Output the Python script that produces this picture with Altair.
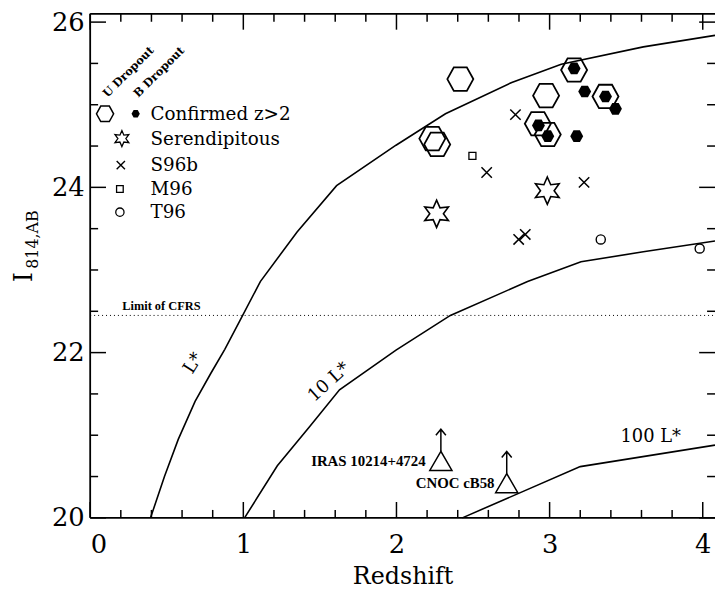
import altair as alt
import pandas as pd

W, H = 631, 509
XMAX, YMIN, YMAX = 4.08, 20.0, 26.1
SERIF = "DejaVu Serif"
TSERIF = "Liberation Serif"

# ---------------- data ----------------
lstar_z = [0.394, 0.485, 0.575, 0.685, 0.788, 0.879, 0.976, 1.111, 1.351, 1.609, 1.997, 2.32, 2.753, 3.076, 3.612, 4.08]
lstar_I = [20.0, 20.5, 20.95, 21.41, 21.75, 22.04, 22.38, 22.86, 23.46, 24.02, 24.51, 24.89, 25.27, 25.49, 25.70, 25.84]

l10_z = [1.008, 1.222, 1.435, 1.628, 1.997, 2.352, 2.856, 3.205, 3.612, 4.08]
l10_I = [20.0, 20.63, 21.11, 21.55, 22.03, 22.45, 22.86, 23.1, 23.22, 23.35]

l100_z = [2.43, 3.2, 4.08]
l100_I = [20.0, 20.62, 20.88]

cfrs_limit = 22.45

uhex_z = [2.417, 2.234, 2.266, 2.977, 3.16, 3.365, 2.923, 2.988]
uhex_I = [25.31, 24.59, 24.52, 25.11, 25.42, 25.10, 24.77, 24.64]

bhex_z = [3.16, 3.365, 3.229, 3.43, 2.927, 2.988, 3.177]
bhex_I = [25.44, 25.10, 25.16, 24.95, 24.75, 24.62, 24.62]

s96b_z = [2.777, 2.589, 3.225, 2.798, 2.841]
s96b_I = [24.88, 24.18, 24.06, 23.37, 23.43]

m96_z = [2.496]
m96_I = [24.38]

star_z = [2.985, 2.262]
star_I = [23.96, 23.68]

t96_z = [3.334, 3.98]
t96_I = [23.37, 23.26]

tri_names = ["IRAS 10214+4724", "CNOC cB58"]
tri_z = [2.29, 2.72]
tri_I = [20.69, 20.42]

curve_labels = ["L*", "10 L*", "100 L*"]
curve_label_z = [0.675, 1.56, 3.66]
curve_label_I = [21.87, 21.64, 20.98]
curve_label_angle = [302, 318, 0]

legend_labels = ["Confirmed  z>2", "Serendipitous", "S96b", "M96", "T96"]
legend_I = [24.89, 24.59, 24.27, 23.98, 23.70]
legend_text_z = 0.394

x_major = [0, 1, 2, 3, 4]
x_minor = [0.2, 0.4, 0.6, 0.8, 1.2, 1.4, 1.6, 1.8, 2.2, 2.4, 2.6, 2.8, 3.2, 3.4, 3.6, 3.8]
y_major = [20, 22, 24, 26]
y_minor = [20.5, 21, 21.5, 22.5, 23, 23.5, 24.5, 25, 25.5]

# ---------------- shapes ----------------
HEX = "M-1,0L-0.5,-0.9L0.5,-0.9L1,0L0.5,0.9L-0.5,0.9Z"
STAR = ("M0,-1L0.25,-0.433L0.866,-0.5L0.5,0L0.866,0.5L0.25,0.433L0,1"
        "L-0.25,0.433L-0.866,0.5L-0.5,0L-0.866,-0.5L-0.25,-0.433Z")
XMARK = "M-1,-1L1,1M1,-1L-1,1"
ARROW = "M0,-0.87L0,-2.86M-0.45,-2.32L0,-2.86L0.45,-2.32"

xs = alt.Scale(domain=[0, XMAX], nice=False, zero=False)
ys = alt.Scale(domain=[YMIN, YMAX], nice=False, zero=False)

X_AXIS = alt.Axis(
    values=x_major, format="d", ticks=False, domain=False, grid=False,
    labelFont=SERIF, labelFontSize=26, labelColor="black", labelPadding=14,
    title="Redshift", titleFont=SERIF, titleFontSize=24, titleFontWeight="normal",
    titleColor="black", titlePadding=7)
Y_AXIS = alt.Axis(
    values=y_major, format="d", ticks=False, domain=False, grid=False,
    labelFont=SERIF, labelFontSize=26, labelColor="black", labelPadding=6,
    title="")


def enc_x():
    return alt.X("z:Q", scale=xs, axis=X_AXIS)


def enc_y():
    return alt.Y("I:Q", scale=ys, axis=Y_AXIS)


def pts(zs, Is):
    return pd.DataFrame({"z": zs, "I": Is})


def curve(zs, Is):
    return alt.Chart(pts(zs, Is)).mark_line(color="black", strokeWidth=1.6).encode(
        x=enc_x(), y=enc_y(), order="z:Q")


curves = [curve(lstar_z, lstar_I), curve(l10_z, l10_I), curve(l100_z, l100_I)]

one = pd.DataFrame({"a": [0]})
cfrs = alt.Chart(pd.DataFrame({"I": [cfrs_limit]})).mark_rule(
    color="black", strokeWidth=1, strokeDash=[1, 3]).encode(
    y=enc_y(), x=alt.value(0), x2=alt.value(W))

cfrs_text = alt.Chart(pd.DataFrame({"z": [0.465], "I": [22.56], "t": ["Limit of CFRS"]})).mark_text(
    font=TSERIF, fontSize=12.5, fontWeight="bold", color="black").encode(
    x=enc_x(), y=enc_y(), text="t:N")

# frame and ticks
frame = [
    alt.Chart(one).mark_rule(color="black", strokeWidth=1.8).encode(
        x=alt.value(0), x2=alt.value(W), y=alt.value(0)),
    alt.Chart(one).mark_rule(color="black", strokeWidth=1.8).encode(
        x=alt.value(0), x2=alt.value(W), y=alt.value(H)),
    alt.Chart(one).mark_rule(color="black", strokeWidth=1.8).encode(
        x=alt.value(0), y=alt.value(0), y2=alt.value(H)),
]


def xticks(vals, length, top):
    y0 = 0 if top else H
    y1 = length if top else H - length
    return alt.Chart(pd.DataFrame({"z": vals})).mark_rule(color="black", strokeWidth=1.5).encode(
        x=enc_x(), y=alt.value(y0), y2=alt.value(y1))


def yticks(vals, length, right):
    x0 = W if right else 0
    x1 = W - length if right else length
    return alt.Chart(pd.DataFrame({"I": vals})).mark_rule(color="black", strokeWidth=1.5).encode(
        y=enc_y(), x=alt.value(x0), x2=alt.value(x1))


ticks = [xticks(x_major, 16, False), xticks(x_minor, 8, False),
         xticks(x_major, 16, True), xticks(x_minor, 8, True),
         yticks(y_major, 16, False), yticks(y_minor, 8, False),
         yticks(y_major, 16, True), yticks(y_minor, 8, True)]


def sym(zs, Is, shape, size, filled, sw=1.5):
    if filled:
        mk = alt.Chart(pts(zs, Is)).mark_point(shape=shape, size=size, filled=True,
                                                 color="black", opacity=1, strokeWidth=0)
    else:
        mk = alt.Chart(pts(zs, Is)).mark_point(shape=shape, size=size, filled=False,
                                                 color="black", opacity=1, strokeWidth=sw)
    return mk.encode(x=enc_x(), y=enc_y())


markers = [
    sym(uhex_z, uhex_I, HEX, 690, False, 1.8),
    sym(bhex_z, bhex_I, HEX, 170, True),
    sym(s96b_z, s96b_I, XMARK, 110, False, 1.5),
    sym(m96_z, m96_I, "square", 50, False, 1.3),
    sym(star_z, star_I, STAR, 760, False, 1.6),
    sym(t96_z, t96_I, "circle", 85, False, 1.4),
    sym(tri_z, tri_I, "triangle-up", 500, False, 1.5),
    sym(tri_z, tri_I, ARROW, 500, False, 1.5),
]

tri_text = alt.Chart(pd.DataFrame({
    "z": [2.19, 2.64], "I": [20.69, 20.42], "t": tri_names})).mark_text(
    font=TSERIF, fontSize=15, fontWeight="bold", color="black", align="right").encode(
    x=enc_x(), y=enc_y(), text="t:N")

curve_text = [
    alt.Chart(pd.DataFrame({"z": [curve_label_z[i]], "I": [curve_label_I[i]], "t": [curve_labels[i]]})).mark_text(
        font=SERIF, fontSize=18, color="black", angle=curve_label_angle[i]).encode(
        x=enc_x(), y=enc_y(), text="t:N")
    for i in range(3)
]

# legend drawn in data space
legend = [
    sym([0.097], [legend_I[0]], HEX, 300, False, 1.5),
    sym([0.297], [legend_I[0]], HEX, 70, True),
    sym([0.207], [legend_I[1]], STAR, 260, False, 1.3),
    sym([0.200], [legend_I[2]], XMARK, 70, False, 1.4),
    sym([0.194], [legend_I[3]], "square", 45, False, 1.3),
    sym([0.194], [legend_I[4]], "circle", 70, False, 1.3),
    alt.Chart(pd.DataFrame({"z": [legend_text_z] * 5, "I": legend_I, "t": legend_labels})).mark_text(
        font=SERIF, fontSize=18.5, color="black", align="left").encode(
        x=enc_x(), y=enc_y(), text="t:N"),
    alt.Chart(pd.DataFrame({"z": [0.252, 0.452], "I": [25.39, 25.39], "t": ["U Dropout", "B Dropout"]})).mark_text(
        font=SERIF, fontSize=11.5, fontWeight="bold", color="black", angle=315).encode(
        x=enc_x(), y=enc_y(), text="t:N"),
]

# y-axis title built from two text pieces (I with subscript 814,AB)
ytitle = [
    alt.Chart(one).mark_text(text="I", font=SERIF, fontSize=26, color="black", angle=270).encode(
        x=alt.value(-67), y=alt.value(266)),
    alt.Chart(one).mark_text(text="814,AB", font=SERIF, fontSize=16, color="black", angle=270,
                             align="center").encode(
        x=alt.value(-58), y=alt.value(228)),
]

chart = alt.layer(
    *curves, cfrs, cfrs_text, *frame, *ticks, *markers, tri_text,
    *curve_text, *legend, *ytitle
).properties(
    width=W, height=H,
    autosize=alt.AutoSizeParams(type="none"),
    padding={"left": 83, "top": 3, "right": 0, "bottom": 74},
).configure_view(strokeWidth=0)

chart.save("out.html", embed_options={"renderer": "svg", "actions": False})
